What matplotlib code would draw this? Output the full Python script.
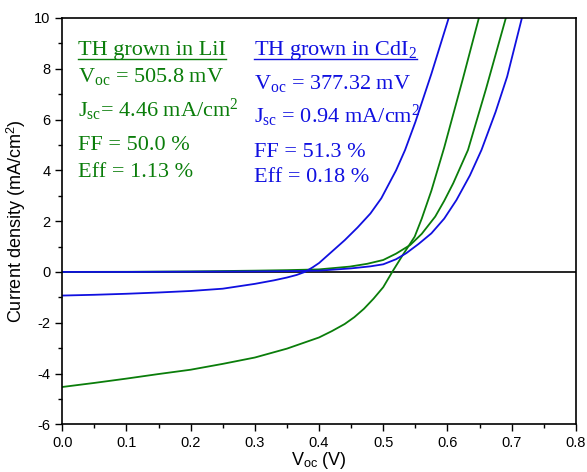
import matplotlib
matplotlib.use("Agg")
import matplotlib.pyplot as plt
from matplotlib.ticker import MultipleLocator
from matplotlib.lines import Line2D

plt.rcParams['font.family'] = ['Liberation Sans', 'DejaVu Sans']
plt.rcParams['mathtext.fontset'] = 'custom'
plt.rcParams['mathtext.rm'] = 'Liberation Serif'
plt.rcParams['mathtext.it'] = 'Liberation Serif:italic'
plt.rcParams['axes.unicode_minus'] = False

# LiI, illuminated
v_lii_light = [0, 0.05, 0.10, 0.15, 0.20, 0.25, 0.30, 0.35, 0.40, 0.42, 0.44, 0.455, 0.47, 0.485,
               0.50, 0.514, 0.53, 0.549, 0.56, 0.575, 0.595, 0.624, 0.649]
j_lii_light = [-4.53, -4.37, -4.20, -4.02, -3.85, -3.62, -3.37, -3.02, -2.58, -2.33, -2.05, -1.78, -1.45, -1.05,
               -0.6, 0.0, 0.65, 1.39, 2.1, 3.2, 4.9, 7.6, 10.0]
# LiI, dark
v_lii_dark = [0, 0.1, 0.2, 0.3, 0.35, 0.40, 0.448, 0.475, 0.50, 0.52, 0.542, 0.56, 0.581, 0.595,
              0.609, 0.632, 0.66, 0.691]
j_lii_dark = [0.0, 0.005, 0.02, 0.05, 0.07, 0.1, 0.21, 0.32, 0.47, 0.72, 1.06, 1.5, 2.18, 2.8,
              3.49, 4.8, 7.2, 10.0]
# CdI2, illuminated
v_cdi_light = [0, 0.05, 0.10, 0.15, 0.20, 0.25, 0.30, 0.33, 0.35, 0.365, 0.378, 0.39, 0.40, 0.42,
               0.44, 0.46, 0.48, 0.497, 0.52, 0.534, 0.55, 0.575, 0.602]
j_cdi_light = [-0.93, -0.90, -0.86, -0.81, -0.75, -0.66, -0.47, -0.33, -0.22, -0.12, 0.0, 0.18, 0.35, 0.8,
               1.25, 1.75, 2.3, 2.9, 4.0, 4.8, 5.9, 7.8, 10.0]
# CdI2, dark
v_cdi_dark = [0, 0.1, 0.2, 0.3, 0.35, 0.40, 0.45, 0.48, 0.50, 0.52, 0.536, 0.555, 0.575, 0.595,
              0.614, 0.635, 0.653, 0.675, 0.693, 0.716]
j_cdi_dark = [0.0, 0.0, 0.01, 0.02, 0.03, 0.05, 0.14, 0.22, 0.3, 0.5, 0.74, 1.1, 1.52, 2.1,
              2.83, 3.8, 4.8, 6.3, 7.69, 10.0]

green = '#0a7d0a'
blue = '#1010e0'

fig = plt.figure(figsize=(5.87, 4.72), dpi=100)
ax = fig.add_axes([0.106, 0.101, 0.875, 0.861])

ax.axhline(0, color='black', lw=1.2, zorder=1)
ax.plot(v_lii_light, j_lii_light, color=green, lw=1.3)
ax.plot(v_lii_dark, j_lii_dark, color=green, lw=1.3)
ax.plot(v_cdi_light, j_cdi_light, color=blue, lw=1.3)
ax.plot(v_cdi_dark, j_cdi_dark, color=blue, lw=1.3)

ax.set_xlim(0, 0.8)
ax.set_ylim(-6, 10)
ax.xaxis.set_major_locator(MultipleLocator(0.1))
ax.xaxis.set_minor_locator(MultipleLocator(0.05))
ax.yaxis.set_major_locator(MultipleLocator(2))
ax.yaxis.set_minor_locator(MultipleLocator(1))
ax.xaxis.set_major_formatter(plt.FormatStrFormatter('%.1f'))
ax.tick_params(which='both', direction='out', top=False, right=False, labelsize=10.5)
ax.tick_params(which='major', length=5, width=1)
ax.tick_params(which='minor', length=3, width=1)
for s in ax.spines.values():
    s.set_linewidth(1.2)

ax.set_xlabel(r'V$_{\mathregular{oc}}$ (V)', fontsize=13, labelpad=0)
ax.set_ylabel(r'Current density (mA/cm$^{\mathregular{2}}$)', fontsize=13, labelpad=4)

serif = ['Liberation Serif', 'DejaVu Serif']
fs = 16
t1 = fig.text(78 / 587, 1 - 55 / 472, 'TH grown in LiI', color=green, fontsize=fs, family=serif)
fig.text(78 / 587, 1 - 82 / 472, r'V$_{\mathrm{oc}}$ = 505.8 mV', color=green, fontsize=fs, family=serif)
fig.text(78 / 587, 1 - 117 / 472, r'J$_{\mathrm{sc}}$= 4.46 mA/cm$^{\mathrm{2}}$', color=green, fontsize=fs, family=serif)
fig.text(78 / 587, 1 - 150 / 472, 'FF = 50.0 %', color=green, fontsize=fs, family=serif)
fig.text(78 / 587, 1 - 177 / 472, 'Eff = 1.13 %', color=green, fontsize=fs, family=serif)

t2 = fig.text(254 / 587, 1 - 55 / 472, r'TH grown in CdI$_{\mathrm{2}}$', color=blue, fontsize=fs, family=serif)
fig.text(254 / 587, 1 - 89 / 472, r'V$_{\mathrm{oc}}$ = 377.32 mV', color=blue, fontsize=fs, family=serif)
fig.text(254 / 587, 1 - 123 / 472, r'J$_{\mathrm{sc}}$ = 0.94 mA/cm$^{\mathrm{2}}$', color=blue, fontsize=fs, family=serif)
fig.text(254 / 587, 1 - 157 / 472, 'FF = 51.3 %', color=blue, fontsize=fs, family=serif)
fig.text(254 / 587, 1 - 182 / 472, 'Eff = 0.18 %', color=blue, fontsize=fs, family=serif)

# underline the two titles
fig.canvas.draw()
r = fig.canvas.get_renderer()
for t, c in [(t1, green), (t2, blue)]:
    bb = t.get_window_extent(r).transformed(fig.transFigure.inverted())
    y = 1 - 59 / 472
    fig.add_artist(Line2D([bb.x0, bb.x1], [y, y], color=c, lw=1, transform=fig.transFigure))

fig.savefig('out.png', dpi=100)
